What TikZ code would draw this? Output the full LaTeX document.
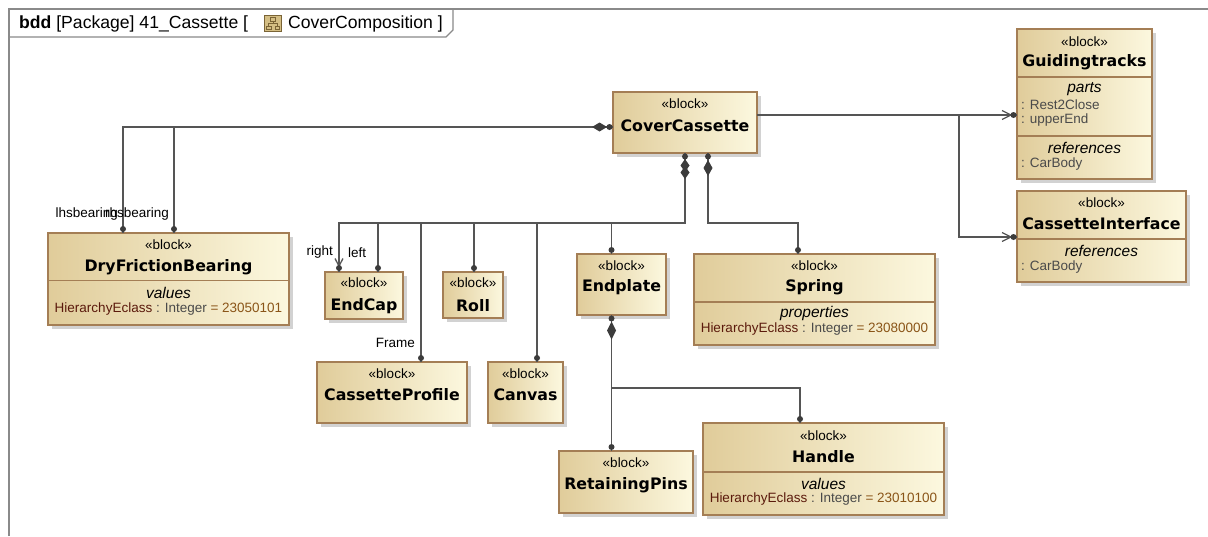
\documentclass[tikz,border=0pt]{standalone}
\usepackage{fontspec}
\setmainfont{Liberation Sans}
\newfontfamily\namefont{DejaVu Sans}
\usetikzlibrary{shadows}
\definecolor{bfillL}{HTML}{E0CC9A}
\definecolor{bfillR}{HTML}{FCF8DF}
\definecolor{bborder}{HTML}{A47E55}
\definecolor{linec}{HTML}{555555}
\definecolor{dotc}{HTML}{3C3C3C}
\definecolor{framec}{HTML}{8A8A8A}
\definecolor{attrname}{HTML}{5B1A0C}
\definecolor{attrtype}{HTML}{4A4A4A}
\definecolor{attrval}{HTML}{8A5518}
\definecolor{icfill}{HTML}{D4BE84}
\definecolor{icline}{HTML}{7A6436}
\tikzset{
 blockbox/.style={draw=bborder, line width=1.1pt, left color=bfillL, right color=bfillR,
   drop shadow={shadow xshift=3.5pt, shadow yshift=-3.5pt, fill=black!35, opacity=0.5},
   anchor=north west, inner sep=0pt, outer sep=0pt},
 stereo/.style={font=\fontsize{13.5}{14}\selectfont, inner sep=0pt},
 bname/.style={font=\namefont\bfseries\fontsize{15.8}{16}\selectfont, inner sep=0pt},
 comph/.style={font=\itshape\fontsize{15.5}{16}\selectfont, inner sep=0pt},
 item/.style={font=\fontsize{13.5}{14}\selectfont, inner sep=0pt, text=attrtype},
 elabel/.style={font=\fontsize{13.5}{14}\selectfont, inner sep=0pt},
 hdrtext/.style={font=\fontsize{17.6}{18}\selectfont, anchor=west, inner sep=0pt},
 conn/.style={draw=linec, line width=1.3pt},
 csep/.style={draw=bborder, line width=1.1pt},
 enddot/.style={fill=dotc},
}
\begin{document}
\begin{tikzpicture}[x=1pt,y=-1pt]
\useasboundingbox (0,0) rectangle (1208,536);
\fill[white] (0,0) rectangle (1208,536);

% frame
\draw[framec, line width=1.2pt] (9,536) -- (9,9) -- (1208,9);
\draw[framec, line width=1.2pt] (9,37) -- (446,37) -- (453,30) -- (453,9);
\node[hdrtext] (hdr1) at (19,23.5) {\textbf{bdd} [Package] 41\_Cassette [};
\node[draw=icline, fill=icfill, minimum width=17pt, minimum height=16pt, inner sep=0pt] (icon) at (273,23.5) {};
\draw[icline, line width=0.8pt] ([xshift=-2.5pt,yshift=6pt]icon.center) rectangle ([xshift=2.5pt,yshift=2.5pt]icon.center);
\draw[icline, line width=0.8pt] ([xshift=-6.5pt,yshift=-2.5pt]icon.center) rectangle ([xshift=-2pt,yshift=-6pt]icon.center);
\draw[icline, line width=0.8pt] ([xshift=2pt,yshift=-2.5pt]icon.center) rectangle ([xshift=6.5pt,yshift=-6pt]icon.center);
\draw[icline, line width=0.8pt] ([yshift=2.5pt]icon.center) -- ([yshift=0pt]icon.center)
  ([xshift=-4.2pt,yshift=-2.5pt]icon.center) |- ([xshift=4.2pt]icon.center) -- ([xshift=4.2pt,yshift=-2.5pt]icon.center);
\node[hdrtext] (hdr2) at (288,23.5) {CoverComposition ]};

% ---------- blocks ----------
\node[blockbox, minimum width=144pt, minimum height=61pt] (cc) at (613,92) {};
\node[stereo] (cc-s) at ([yshift=-12pt]cc.north) {«block»};
\node[bname]  (cc-n) at ([yshift=-33.5pt]cc.north) {CoverCassette};

\node[blockbox, minimum width=135pt, minimum height=150pt] (gt) at (1017,29) {};
\node[stereo] (gt-s) at ([yshift=-12.5pt]gt.north) {«block»};
\node[bname]  (gt-n) at ([yshift=-33.5pt]gt.north) {Guidingtracks};
\draw[csep] ([yshift=-48pt]gt.north west) -- ([yshift=-48pt]gt.north east);
\node[comph] (gt-h1) at ([yshift=-60.5pt]gt.north) {parts};
\node[item, anchor=west] (gt-i1) at ([xshift=4pt,yshift=-76pt]gt.north west) {: Rest2Close};
\node[item, anchor=west] (gt-i2) at ([xshift=4pt,yshift=-91pt]gt.north west) {: upperEnd};
\draw[csep] ([yshift=-107pt]gt.north west) -- ([yshift=-107pt]gt.north east);
\node[comph] (gt-h2) at ([yshift=-119pt]gt.north) {references};
\node[item, anchor=west] (gt-i3) at ([xshift=4pt,yshift=-135pt]gt.north west) {: CarBody};

\node[blockbox, minimum width=169pt, minimum height=91pt] (ci) at (1017,191) {};
\node[stereo] (ci-s) at ([yshift=-12pt]ci.north) {«block»};
\node[bname]  (ci-n) at ([yshift=-32.5pt]ci.north) {CassetteInterface};
\draw[csep] ([yshift=-48pt]ci.north west) -- ([yshift=-48pt]ci.north east);
\node[comph] (ci-h1) at ([yshift=-60pt]ci.north) {references};
\node[item, anchor=west] (ci-i1) at ([xshift=4pt,yshift=-76pt]ci.north west) {: CarBody};

\node[blockbox, minimum width=241pt, minimum height=92pt] (dfb) at (48,233) {};
\node[stereo] (dfb-s) at ([yshift=-12pt]dfb.north) {«block»};
\node[bname]  (dfb-n) at ([yshift=-34pt]dfb.north) {DryFrictionBearing};
\draw[csep] ([yshift=-47.5pt]dfb.north west) -- ([yshift=-47.5pt]dfb.north east);
\node[comph] (dfb-h1) at ([yshift=-59.5pt]dfb.north) {values};
\node[item] (dfb-i1) at ([yshift=-76pt]dfb.north) {\textcolor{attrname}{HierarchyEclass} : Integer \textcolor{attrval}{= 23050101}};

\node[blockbox, minimum width=78pt, minimum height=47pt] (ec) at (325,272) {};
\node[stereo] (ec-s) at ([yshift=-11pt]ec.north) {«block»};
\node[bname]  (ec-n) at ([yshift=-34pt]ec.north) {EndCap};

\node[blockbox, minimum width=60pt, minimum height=46pt] (roll) at (443,272) {};
\node[stereo] (roll-s) at ([yshift=-11pt]roll.north) {«block»};
\node[bname]  (roll-n) at ([yshift=-34pt]roll.north) {Roll};

\node[blockbox, minimum width=89pt, minimum height=61pt] (ep) at (577,254) {};
\node[stereo] (ep-s) at ([yshift=-12pt]ep.north) {«block»};
\node[bname]  (ep-n) at ([yshift=-33pt]ep.north) {Endplate};

\node[blockbox, minimum width=241pt, minimum height=91pt] (sp) at (694,254) {};
\node[stereo] (sp-s) at ([yshift=-12pt]sp.north) {«block»};
\node[bname]  (sp-n) at ([yshift=-33.5pt]sp.north) {Spring};
\draw[csep] ([yshift=-48pt]sp.north west) -- ([yshift=-48pt]sp.north east);
\node[comph] (sp-h1) at ([yshift=-59.5pt]sp.north) {properties};
\node[item] (sp-i1) at ([yshift=-75.5pt]sp.north) {\textcolor{attrname}{HierarchyEclass} : Integer \textcolor{attrval}{= 23080000}};

\node[blockbox, minimum width=150pt, minimum height=61pt] (cp) at (317,362) {};
\node[stereo] (cp-s) at ([yshift=-11.5pt]cp.north) {«block»};
\node[bname]  (cp-n) at ([yshift=-33pt]cp.north) {CassetteProfile};

\node[blockbox, minimum width=75pt, minimum height=61pt] (cv) at (488,362) {};
\node[stereo] (cv-s) at ([yshift=-11.5pt]cv.north) {«block»};
\node[bname]  (cv-n) at ([yshift=-33pt]cv.north) {Canvas};

\node[blockbox, minimum width=134pt, minimum height=62pt] (rp) at (559,451) {};
\node[stereo] (rp-s) at ([yshift=-12pt]rp.north) {«block»};
\node[bname]  (rp-n) at ([yshift=-34pt]rp.north) {RetainingPins};

\node[blockbox, minimum width=241pt, minimum height=92pt] (hd) at (703,423) {};
\node[stereo] (hd-s) at ([yshift=-13pt]hd.north) {«block»};
\node[bname]  (hd-n) at ([yshift=-34pt]hd.north) {Handle};
\draw[csep] ([yshift=-49pt]hd.north west) -- ([yshift=-49pt]hd.north east);
\node[comph] (hd-h1) at ([yshift=-61pt]hd.north) {values};
\node[item] (hd-i1) at ([yshift=-76.5pt]hd.north) {\textcolor{attrname}{HierarchyEclass} : Integer \textcolor{attrval}{= 23010100}};

% ---------- connectors ----------
% left: CoverCassette -> DryFrictionBearing (lhsbearing, rhsbearing)
\coordinate (jL)  at (123,127);
\coordinate (jL2) at (174,127);
\draw[conn] (cc.west |- jL) -- (jL) -- (dfb.north -| jL);
\draw[conn] (jL2) -- (dfb.north -| jL2);
\fill[dotc] (592,127) -- (599.5,122.5) -- (607,127) -- (599.5,131.5) -- cycle;
\fill[dotc] (609.5,127) circle (3);
\fill[enddot] ([yshift=4pt]dfb.north -| jL) circle (3);
\fill[enddot] ([yshift=4pt]dfb.north -| jL2) circle (3);
\node[elabel, anchor=east] (l-lhs) at (118,214) {lhsbearing};
\node[elabel, anchor=east] (l-rhs) at (169,214) {rhsbearing};

% right: CoverCassette -> Guidingtracks, CassetteInterface
\coordinate (jR) at (959,115);
\coordinate (jR2) at (959,237);
\draw[conn] (cc.east |- jR) -- (gt.west |- jR);
\draw[conn] (jR) -- (jR2) -- (ci.west |- jR2);
\draw[linec, line width=1.3pt] (1002,110.5) -- (1011,115) -- (1002,119.5);
\fill[enddot] (1013.5,115) circle (3);
\draw[linec, line width=1.3pt] (1002,232.5) -- (1011,237) -- (1002,241.5);
\fill[enddot] (1013.5,237) circle (3);

% bottom composite bus
\coordinate (bA) at (685,223);
\coordinate (bR) at (339,223);
\coordinate (bL) at (378,223);
\coordinate (bF) at (421,223);
\coordinate (bRo) at (474,223);
\coordinate (bC) at (537,223);
\coordinate (bE) at (611.5,223);
\draw[conn] (cc.south -| bA) -- (bA) -- (bR) -- (ec.north -| bR);
\draw[conn] (bL) -- (ec.north -| bL);
\draw[conn] (bF) -- (cp.north -| bF);
\draw[conn] (bRo) -- (roll.north -| bRo);
\draw[conn] (bC) -- (cv.north -| bC);
\draw[conn] (bE) -- (ep.north -| bE);
\fill[dotc] (685,156.5) circle (3);
\fill[dotc] (685,159) -- (689.5,165.5) -- (685,172) -- (680.5,165.5) -- cycle;
\fill[dotc] (685,166) -- (689.5,172.5) -- (685,179) -- (680.5,172.5) -- cycle;
% end markers
\draw[linec, line width=1.3pt] (335,258.5) -- (339,266) -- (343,258.5);
\fill[enddot] ([yshift=4pt]ec.north -| bR) circle (3);
\fill[enddot] ([yshift=4pt]ec.north -| bL) circle (3);
\fill[enddot] ([yshift=4pt]cp.north -| bF) circle (3);
\fill[enddot] ([yshift=4pt]roll.north -| bRo) circle (3);
\fill[enddot] ([yshift=4pt]cv.north -| bC) circle (3);
\fill[enddot] ([yshift=4pt]ep.north -| bE) circle (3);
\node[elabel, anchor=east] (l-right) at (333,252.5) {right};
\node[elabel, anchor=west] (l-left) at (348,252.5) {left};
\node[elabel, anchor=east] (l-frame) at (415,342.5) {Frame};

% spring
\coordinate (sA) at (708,223);
\coordinate (sB) at (798,223);
\draw[conn] (cc.south -| sA) -- (sA) -- (sB) -- (sp.north -| sB);
\fill[dotc] (708,156.5) circle (3);
\fill[dotc] (708,160) -- (712.5,168) -- (708,176) -- (703.5,168) -- cycle;
\fill[enddot] ([yshift=4pt]sp.north -| sB) circle (3);

% endplate -> retaining pins, handle
\coordinate (eA) at (611.5,388);
\coordinate (eB) at (800,388);
\draw[conn] (ep.south -| eA) -- (rp.north -| eA);
\draw[conn] (eA) -- (eB) -- (hd.north -| eB);
\fill[dotc] (611.5,318.5) circle (3);
\fill[dotc] (611.5,321.5) -- (616,330.5) -- (611.5,339.5) -- (607,330.5) -- cycle;
\fill[enddot] ([yshift=4pt]rp.north -| eA) circle (3);
\fill[enddot] ([yshift=4pt]hd.north -| eB) circle (3);
\end{tikzpicture}
\end{document}
